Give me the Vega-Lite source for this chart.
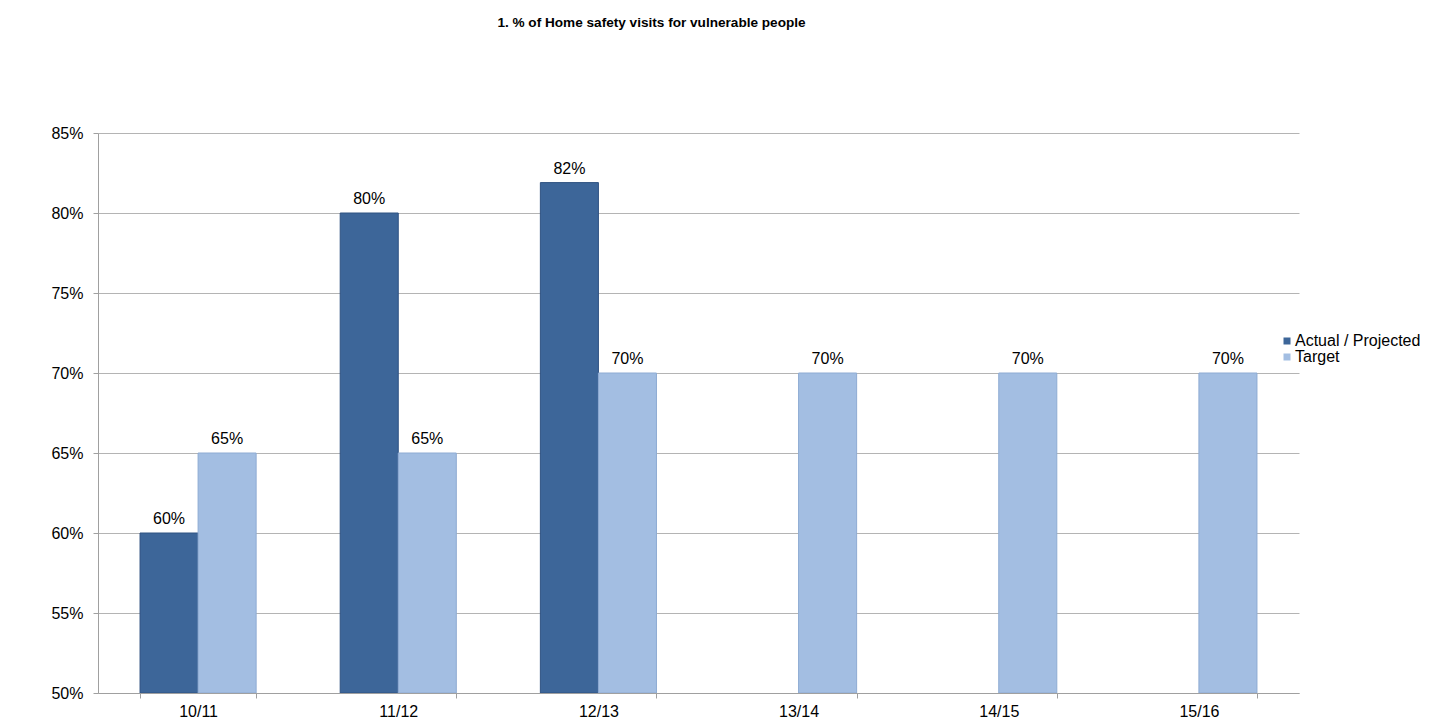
{
  "$schema": "https://vega.github.io/schema/vega-lite/v6.json",
  "autosize": "none",
  "width": 1201,
  "height": 560,
  "padding": {"left": 98, "top": 133, "right": 144, "bottom": 35},
  "background": "white",
  "title": {"text": "1. % of Home safety visits for vulnerable people", "font": "Liberation Sans", "fontSize": 13.6, "fontWeight": "bold", "color": "#000000", "anchor": "middle", "dx": -47, "offset": 95},
  "data": {"values": [
    {"year": "10/11", "series": "Actual / Projected", "value": 0.60},
    {"year": "10/11", "series": "Target", "value": 0.65},
    {"year": "11/12", "series": "Actual / Projected", "value": 0.80},
    {"year": "11/12", "series": "Target", "value": 0.65},
    {"year": "12/13", "series": "Actual / Projected", "value": 0.819},
    {"year": "12/13", "series": "Target", "value": 0.70},
    {"year": "13/14", "series": "Target", "value": 0.70},
    {"year": "14/15", "series": "Target", "value": 0.70},
    {"year": "15/16", "series": "Target", "value": 0.70}
  ]},
  "encoding": {
    "x": {"field": "year", "type": "nominal", "sort": null, "title": null,
      "scale": {"paddingInner": 0.42, "paddingOuter": 0.21},
      "axis": {"labelAngle": 0, "labelFont": "Liberation Sans", "labelFontSize": 16, "labelColor": "#000000", "labelPadding": 5, "tickBand": "extent", "tickColor": "#A0A0A0", "tickSize": 5, "domainColor": "#A0A0A0", "grid": false}},
    "xOffset": {"field": "series", "type": "nominal", "sort": ["Actual / Projected", "Target"], "scale": {"domain": ["Actual / Projected", "Target"], "paddingInner": 0, "paddingOuter": 0}},
    "y": {"field": "value", "type": "quantitative", "title": null,
      "scale": {"domain": [0.5, 0.85], "zero": false, "nice": false},
      "axis": {"format": ".0%", "values": [0.5, 0.55, 0.6, 0.65, 0.7, 0.75, 0.8, 0.85], "labelFont": "Liberation Sans", "labelFontSize": 16, "labelColor": "#000000", "labelPadding": 10, "tickColor": "#A0A0A0", "tickSize": 5, "domainColor": "#A0A0A0", "gridColor": "#B4B4B4", "gridWidth": 1}}
  },
  "layer": [
    {
      "mark": {"type": "bar", "clip": true, "strokeWidth": 1},
      "encoding": {
        "y2": {"datum": 0.5},
        "color": {"field": "series", "type": "nominal",
          "scale": {"domain": ["Actual / Projected", "Target"], "range": ["#3D6699", "#A3BEE2"]},
          "legend": {"title": null, "orient": "none", "legendX": 1181, "legendY": 200, "symbolType": "square", "symbolSize": 49, "symbolStrokeWidth": 0, "labelFont": "Liberation Sans", "labelFontSize": 16, "labelColor": "#000000", "labelOffset": 0, "rowPadding": 0}},
        "stroke": {"field": "series", "type": "nominal", "scale": {"domain": ["Actual / Projected", "Target"], "range": ["#2F5282", "#8EABD3"]}, "legend": null}
      }
    },
    {
      "mark": {"type": "text", "baseline": "bottom", "dy": -6, "font": "Liberation Sans", "fontSize": 16, "color": "#000000"},
      "encoding": {
        "text": {"field": "value", "type": "quantitative", "format": ".0%"}
      }
    }
  ],
  "config": {"view": {"stroke": null}}
}
